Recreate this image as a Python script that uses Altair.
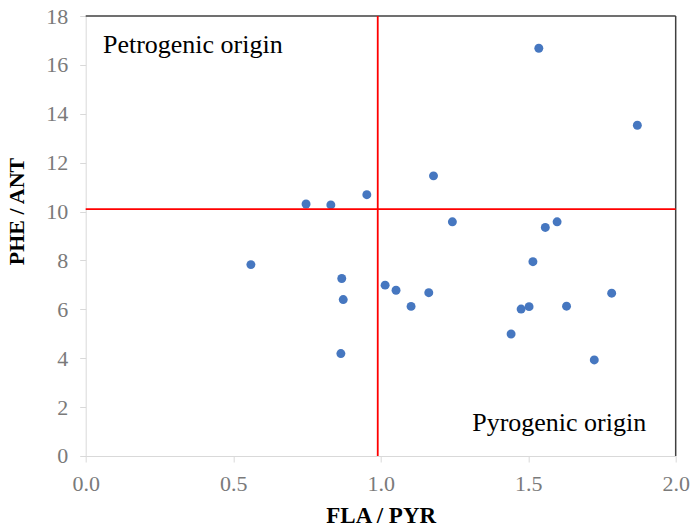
import altair as alt
import pandas as pd

# FLA/PYR ratio (x) and PHE/ANT ratio (y) per sample
fla_pyr = [0.747, 0.831, 0.953, 1.179, 1.536, 1.870, 1.243, 1.558, 1.598, 0.560,
           0.868, 0.873, 0.865, 1.516, 1.015, 1.052, 1.163, 1.103, 1.476, 1.503,
           1.630, 1.783, 1.442, 1.724]
phe_ant = [10.31, 10.27, 10.69, 11.46, 16.68, 13.53, 9.58, 9.35, 9.58, 7.83,
           7.26, 6.40, 4.19, 7.95, 6.99, 6.78, 6.68, 6.12, 6.01, 6.11,
           6.13, 6.66, 4.99, 3.93]

x_threshold = [0.99]
y_threshold = [10.1]
x_ticks = [0.0, 0.5, 1.0, 1.5, 2.0]
y_ticks = [0, 2, 4, 6, 8, 10, 12, 14, 16, 18]

labels = ["Petrogenic origin", "Pyrogenic origin"]
label_x = [0.0585, 1.90]
label_y = [16.48, 1.02]

df = pd.DataFrame({"fla_pyr": fla_pyr, "phe_ant": phe_ant})
ann_left = pd.DataFrame({"text": labels[:1], "x": label_x[:1], "y": label_y[:1]})
ann_right = pd.DataFrame({"text": labels[1:], "x": label_x[1:], "y": label_y[1:]})

FONT = "Liberation Serif, Times New Roman, serif"
xscale = alt.Scale(domain=[0, 2], nice=False, zero=True)
yscale = alt.Scale(domain=[0, 18], nice=False, zero=True)

xaxis = alt.Axis(title="FLA / PYR", values=x_ticks, format=".1f", grid=False,
                 tickSize=6, labelFlush=False, labelOverlap=False,
                 labelPadding=12, titlePadding=10, domainColor="#d9d9d9",
                 tickColor="#d9d9d9", labelColor="#7a7a7a", labelFont=FONT,
                 labelFontSize=22, titleFont=FONT, titleFontSize=23,
                 titleFontWeight="bold", titleColor="#000000")
yaxis = alt.Axis(title="PHE / ANT", values=y_ticks, grid=False, tickSize=6,
                 labelFlush=False, labelOverlap=False, labelPadding=12,
                 titlePadding=17, titleY=195, domainColor="#d9d9d9",
                 tickColor="#d9d9d9", labelColor="#7a7a7a", labelFont=FONT,
                 labelFontSize=22, titleFont=FONT, titleFontSize=22,
                 titleFontWeight="bold", titleColor="#000000")


def X(field):
    return alt.X(field, scale=xscale, axis=xaxis)


def Y(field):
    return alt.Y(field, scale=yscale, axis=yaxis)


points = alt.Chart(df).mark_circle(size=80, opacity=1, color="#4677C0").encode(
    x=X("fla_pyr:Q"), y=Y("phe_ant:Q"))

frame_src = pd.DataFrame({"top": [18], "right": [2]})
top_line = alt.Chart(frame_src).mark_rule(color="#404040", strokeWidth=1.5).encode(
    y=Y("top:Q"))
right_line = alt.Chart(frame_src).mark_rule(color="#404040", strokeWidth=1.5).encode(
    x=X("right:Q"))

vline = alt.Chart(pd.DataFrame({"x": x_threshold})).mark_rule(
    color="#ff0000", strokeWidth=1.8).encode(x=X("x:Q"))
hline = alt.Chart(pd.DataFrame({"y": y_threshold})).mark_rule(
    color="#ff0000", strokeWidth=1.8).encode(y=Y("y:Q"))

text_left = alt.Chart(ann_left).mark_text(font=FONT, fontSize=26, color="#000000",
                                          baseline="alphabetic", align="left").encode(
    x=X("x:Q"), y=Y("y:Q"), text="text:N")
text_right = alt.Chart(ann_right).mark_text(font=FONT, fontSize=26, color="#000000",
                                            baseline="alphabetic", align="right").encode(
    x=X("x:Q"), y=Y("y:Q"), text="text:N")

chart = alt.layer(points, top_line, right_line, vline, hline, text_left, text_right).properties(
    width=590, height=440,
    autosize=alt.AutoSizeParams(type="none"),
    padding={"left": 77.7, "top": 8, "right": 14, "bottom": 72},
).configure_view(stroke=None)

chart.save("out.html", embed_options={"renderer": "svg", "actions": False})
